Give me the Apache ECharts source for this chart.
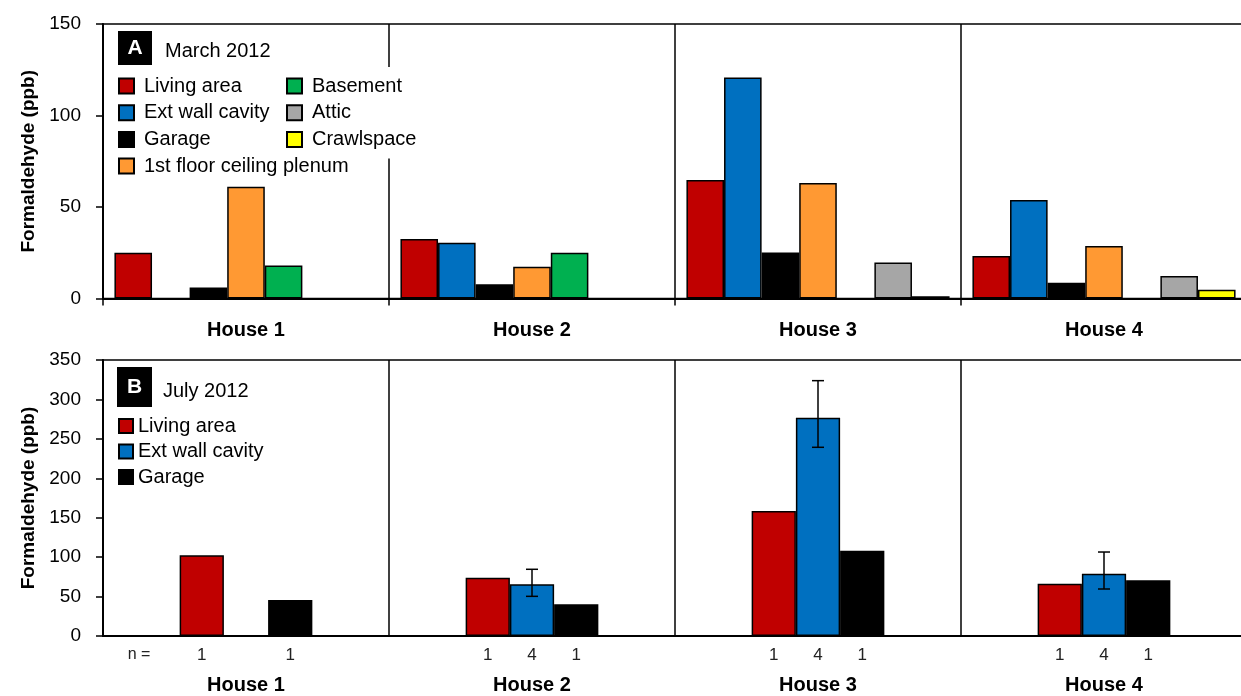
<!DOCTYPE html>
<html>
<head>
<meta charset="utf-8">
<script src="https://cdn.jsdelivr.net/npm/echarts@6/dist/echarts.min.js"></script>
<style>
  html, body { margin: 0; padding: 0; background: #fff; overflow: hidden; }
  /* plot area runs a few px past the right edge of the window, as in the original figure */
  #chart { width: 1250px; height: 696px; }
</style>
</head>
<body>
<div id="chart"></div>
<script>
// categories
var houses = ['House 1', 'House 2', 'House 3', 'House 4'];

// panel A - March 2012 (ppb)
var marchLiving   = [25, 32.5, 64.8, 23.2];
var marchExtWall  = [null, 30.5, 120.7, 53.8];
var marchGarage   = [6, 7.8, 25.2, 8.6];
var marchPlenum   = [61, 17.4, 63.1, 28.7];
var marchBasement = [18, 25, null, null];
var marchAttic    = [null, null, 19.7, 12.3];
var marchCrawl    = [null, null, 1.2, 4.8];

// panel B - July 2012 (ppb)
var julyLiving  = [102.3, 73.9, 158.5, 66.3];
var julyExtWall = [0.5, 65.5, 276.8, 79];
var julyGarage  = [45.6, 40.2, 108.2, 70.6];
var julyExtHigh = [null, 84.6, 323.8, 106.5];
var julyExtLow  = [null, 50.3, 239.3, 59.6];

// sample counts
var nLiving  = [1, 1, 1, 1];
var nExtWall = [null, 4, 4, 4];
var nGarage  = [1, 1, 1, 1];

var yTicksA = [0, 50, 100, 150];
var yTicksB = [0, 50, 100, 150, 200, 250, 300, 350];

var FONT = "'Liberation Sans', Arial, sans-serif";
var colors = {
  living: '#C00000', ext: '#0070C0', garage: '#000000', plenum: '#FF9933',
  basement: '#00B050', attic: '#A6A6A6', crawl: '#FFFF00'
};

var chart = echarts.init(document.getElementById('chart'));

function barA(name, data, color) {
  return {
    name: name, type: 'bar', xAxisIndex: 0, yAxisIndex: 0, data: data,
    barGap: 0, barCategoryGap: '8%',
    itemStyle: { color: color, borderColor: '#000', borderWidth: 1.5 }
  };
}

function barB(name, data, color, nArr) {
  return {
    name: name, type: 'bar', xAxisIndex: 1, yAxisIndex: 1, data: data,
    barGap: 0, barCategoryGap: '53.6%',
    itemStyle: { color: color, borderColor: '#000', borderWidth: 1.5 },
    label: {
      show: true, position: 'bottom', distance: 11,
      fontFamily: FONT, fontSize: 17, color: '#222',
      formatter: function (p) { var n = nArr[p.dataIndex]; return n == null ? '' : String(n); }
    }
  };
}

function yAxis(gridIndex, ticks) {
  return {
    type: 'value', gridIndex: gridIndex,
    min: ticks[0], max: ticks[ticks.length - 1], interval: ticks[1] - ticks[0],
    name: 'Formaldehyde (ppb)', nameLocation: 'middle', nameGap: 63,
    nameTextStyle: { fontFamily: FONT, fontSize: 19, fontWeight: 'bold', color: '#000' },
    axisLine: { show: true, lineStyle: { color: '#000', width: 2 } },
    axisTick: { show: true, length: 7, lineStyle: { color: '#000', width: 1.5 } },
    axisLabel: { fontFamily: FONT, fontSize: 19, color: '#000', margin: 22 },
    splitLine: { show: false }
  };
}

function xAxis(gridIndex, showTick, margin) {
  return {
    type: 'category', gridIndex: gridIndex, data: houses,
    axisLine: { show: true, lineStyle: { color: '#000', width: 2 } },
    axisTick: { show: showTick, length: 7, lineStyle: { color: '#000', width: 1.5 } },
    axisLabel: { fontFamily: FONT, fontSize: 20, fontWeight: 'bold', color: '#000', margin: margin },
    splitLine: { show: true, interval: 0, lineStyle: { color: '#000', width: 1.5 } }
  };
}

var legendText = { fontFamily: FONT, fontSize: 20, color: '#000', lineHeight: 22 };

var option = {
  animation: false,
  backgroundColor: '#fff',
  grid: [
    { left: 103, top: 24, width: 1144, height: 274.5, show: true, borderColor: '#000', borderWidth: 1.5 },
    { left: 103, top: 360, width: 1144, height: 276, show: true, borderColor: '#000', borderWidth: 1.5 }
  ],
  xAxis: [xAxis(0, true, 22), xAxis(1, false, 39)],
  yAxis: [yAxis(0, yTicksA), yAxis(1, yTicksB)],
  legend: [
    {
      orient: 'vertical', left: 118, top: 75, padding: 0, itemGap: 4.7,
      itemWidth: 15, itemHeight: 15, icon: 'rect',
      textStyle: Object.assign({ padding: [0, 0, 0, 5] }, legendText),
      data: ['Living area', 'Ext wall cavity', 'Garage', '1st floor ceiling plenum']
    },
    {
      orient: 'vertical', left: 280, top: 67, padding: [8, 6, 8, 6], itemGap: 4.7,
      itemWidth: 15, itemHeight: 15, icon: 'rect', backgroundColor: '#fff',
      textStyle: Object.assign({ padding: [0, 0, 0, 5] }, legendText),
      data: ['Basement', 'Attic', 'Crawlspace']
    },
    {
      orient: 'vertical', left: 118, top: 415, padding: 0, itemGap: 3.5,
      itemWidth: 14, itemHeight: 14, icon: 'rect',
      textStyle: legendText,
      data: ['Living area', 'Ext wall cavity', 'Garage']
    }
  ],
  graphic: [
    { type: 'rect', left: 118, top: 31, shape: { width: 34, height: 34 }, style: { fill: '#000' } },
    { type: 'text', x: 135, y: 48, style: { text: 'A', fill: '#fff', font: 'bold 21px ' + FONT, align: 'center', verticalAlign: 'middle' } },
    { type: 'text', x: 165, y: 51, style: { text: 'March 2012', fill: '#000', font: '20px ' + FONT, verticalAlign: 'middle' } },
    { type: 'rect', left: 117, top: 367, shape: { width: 35, height: 40 }, style: { fill: '#000' } },
    { type: 'text', x: 134.5, y: 387, style: { text: 'B', fill: '#fff', font: 'bold 21px ' + FONT, align: 'center', verticalAlign: 'middle' } },
    { type: 'text', x: 163, y: 391, style: { text: 'July 2012', fill: '#000', font: '20px ' + FONT, verticalAlign: 'middle' } },
    { type: 'text', x: 139, y: 655, style: { text: 'n =', fill: '#222', font: '16px ' + FONT, align: 'center', verticalAlign: 'middle' } }
  ],
  series: [
    barA('Living area', marchLiving, colors.living),
    barA('Ext wall cavity', marchExtWall, colors.ext),
    barA('Garage', marchGarage, colors.garage),
    barA('1st floor ceiling plenum', marchPlenum, colors.plenum),
    barA('Basement', marchBasement, colors.basement),
    barA('Attic', marchAttic, colors.attic),
    barA('Crawlspace', marchCrawl, colors.crawl),
    barB('Living area', julyLiving, colors.living, nLiving),
    barB('Ext wall cavity', julyExtWall, colors.ext, nExtWall),
    barB('Garage', julyGarage, colors.garage, nGarage),
    {
      name: 'error', type: 'custom', xAxisIndex: 1, yAxisIndex: 1, z: 5,
      encode: { x: 0, y: [1, 2] },
      data: houses.map(function (h, i) { return [i, julyExtHigh[i], julyExtLow[i]]; })
        .filter(function (d) { return d[1] != null; }),
      renderItem: function (params, api) {
        var hi = api.coord([api.value(0), api.value(1)]);
        var lo = api.coord([api.value(0), api.value(2)]);
        var w = 6;
        var st = { stroke: '#000', lineWidth: 1.5 };
        return {
          type: 'group',
          children: [
            { type: 'line', shape: { x1: hi[0], y1: hi[1], x2: lo[0], y2: lo[1] }, style: st },
            { type: 'line', shape: { x1: hi[0] - w, y1: hi[1], x2: hi[0] + w, y2: hi[1] }, style: st },
            { type: 'line', shape: { x1: lo[0] - w, y1: lo[1], x2: lo[0] + w, y2: lo[1] }, style: st }
          ]
        };
      }
    }
  ]
};

chart.setOption(option);
window.addEventListener('resize', chart.resize);
</script>
</body>
</html>
